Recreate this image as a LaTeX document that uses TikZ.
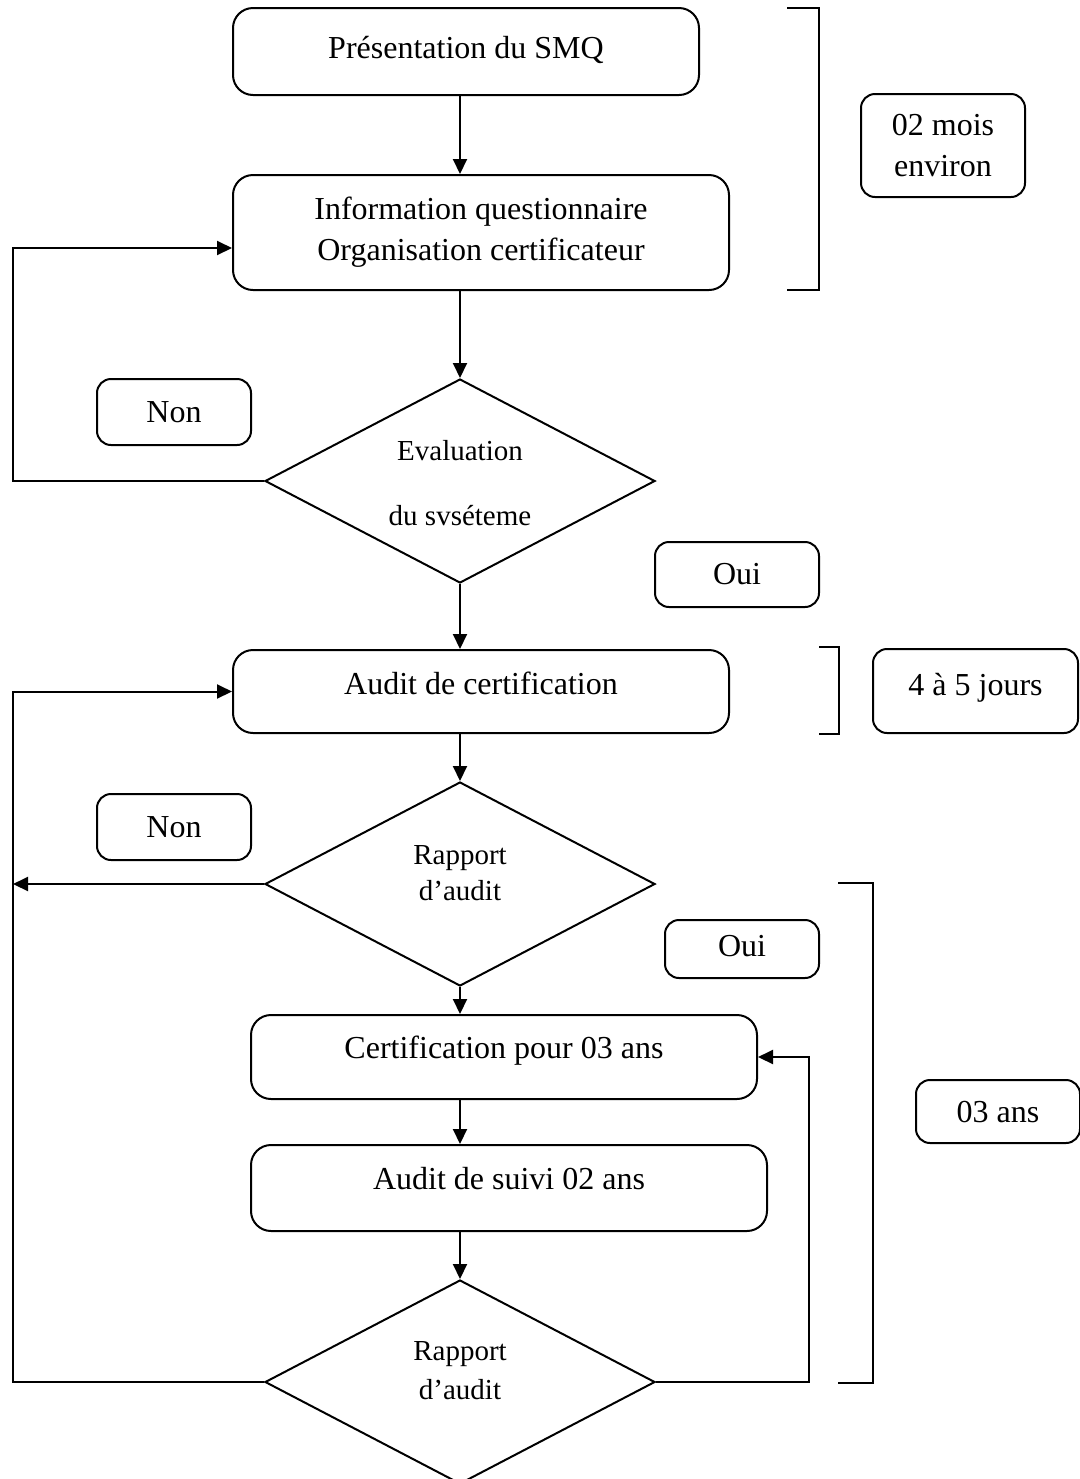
\documentclass[tikz,border=0pt]{standalone}
\usepackage{fontspec}
\setmainfont{Liberation Serif}
\usetikzlibrary{arrows.meta,shapes.geometric}

\newcommand{\lifted}[2]{\raisebox{#1}[\height][\depth]{#2}}

\begin{document}
\begin{tikzpicture}[->,>={Triangle[length=7.5pt,width=7pt]},x=0.5pt,y=-0.5pt,line width=1pt]
  \tikzstyle{every node}=[font=\fontsize{16}{20.5}\selectfont]
  \tikzstyle{stage}=[draw,rounded corners=10pt,align=center,inner sep=0pt]
  \tikzstyle{tag}=[draw,rounded corners=7pt,align=center,inner sep=0pt]
  \tikzstyle{decision}=[draw,diamond,aspect=1.9,inner sep=0pt,minimum width=195pt,minimum height=102pt,align=center,font=\fontsize{14.5}{18}\selectfont]

  \useasboundingbox (0,0) rectangle (1080,1479);

  % main flow
  \node[stage, minimum width=233pt, minimum height=43.5pt] (pres)   at (466,51.5)  {\lifted{1pt}{Présentation du SMQ}};
  \node[stage, minimum width=248pt, minimum height=57.5pt] (info)   at (481,232.5) {Information questionnaire\\Organisation certificateur};
  \node[decision]                                          (eval)   at (460,481)   {\lifted{-2.5pt}{\begin{tabular}{@{}c@{}}Evaluation\\[14.5pt]du svséteme\end{tabular}}};
  \node[stage, minimum width=248pt, minimum height=41.5pt] (audit)  at (481,691.5) {\lifted{4pt}{Audit de certification}};
  \node[decision]                                          (rapA)   at (460,884)   {\lifted{4.5pt}{\begin{tabular}{@{}c@{}}Rapport\\d’audit\end{tabular}}};
  \node[stage, minimum width=253pt, minimum height=42pt]   (certif) at (504,1057)  {\lifted{3pt}{Certification pour 03 ans}};
  \node[stage, minimum width=258pt, minimum height=43pt]   (suivi)  at (509,1188)  {\lifted{4.5pt}{Audit de suivi 02 ans}};
  \node[decision]                                          (rapB)   at (460,1382)  {\lifted{4.5pt}{\begin{tabular}{@{}c@{}}Rapport\\[1.5pt]d’audit\end{tabular}}};

  % answers and durations
  \node[tag, minimum width=77pt, minimum height=33pt]   (nonA)  at (174,412)    {Non};
  \node[tag, minimum width=77pt, minimum height=33pt]   (nonB)  at (174,827)    {Non};
  \node[tag, minimum width=82pt, minimum height=32.5pt] (ouiA)  at (737,574.5)  {Oui};
  \node[tag, minimum width=77pt, minimum height=29pt]   (ouiB)  at (742,949)    {\lifted{1.5pt}{Oui}};
  \node[tag, minimum width=82pt, minimum height=51.5pt] (mois)  at (943,145.5)  {02 mois\\environ};
  \node[tag, minimum width=102.5pt, minimum height=42pt] (jours) at (975.5,691) {\lifted{1.5pt}{4 à 5 jours}};
  \node[tag, minimum width=82pt, minimum height=31.5pt] (ans)   at (998,1111.5) {03 ans};

  \path (pres.south -| eval)   edge (info.north -| eval)
        (info.south -| eval)   edge (eval)
        (eval)                 edge (audit.north -| eval)
        (audit.south -| eval)  edge (rapA)
        (rapA)                 edge (certif.north -| eval)
        (certif.south -| eval) edge (suivi.north -| eval)
        (suivi.south -| eval)  edge (rapB);

  % return loops
  \coordinate (backA) at (13,481);
  \coordinate (backB) at (13,884);
  \coordinate (backC) at (13,1382);
  \coordinate (renew) at (809,1382);

  \draw (eval.west) -- (backA) |- ([yshift=-7.75pt]info.west);
  \draw (rapA.west) -- (backB);
  \draw (rapB.west) -- (backC) |- (audit.west);
  \draw (rapB.east) -- (renew) |- (certif.east);

  % brackets
  \draw[-] (787,8) -- (819,8) -- (819,290) -- (787,290);
  \draw[-] (819,647) -- (839,647) -- (839,734) -- (819,734);
  \draw[-] (838,883) -- (873,883) -- (873,1383) -- (838,1383);
\end{tikzpicture}
\end{document}
